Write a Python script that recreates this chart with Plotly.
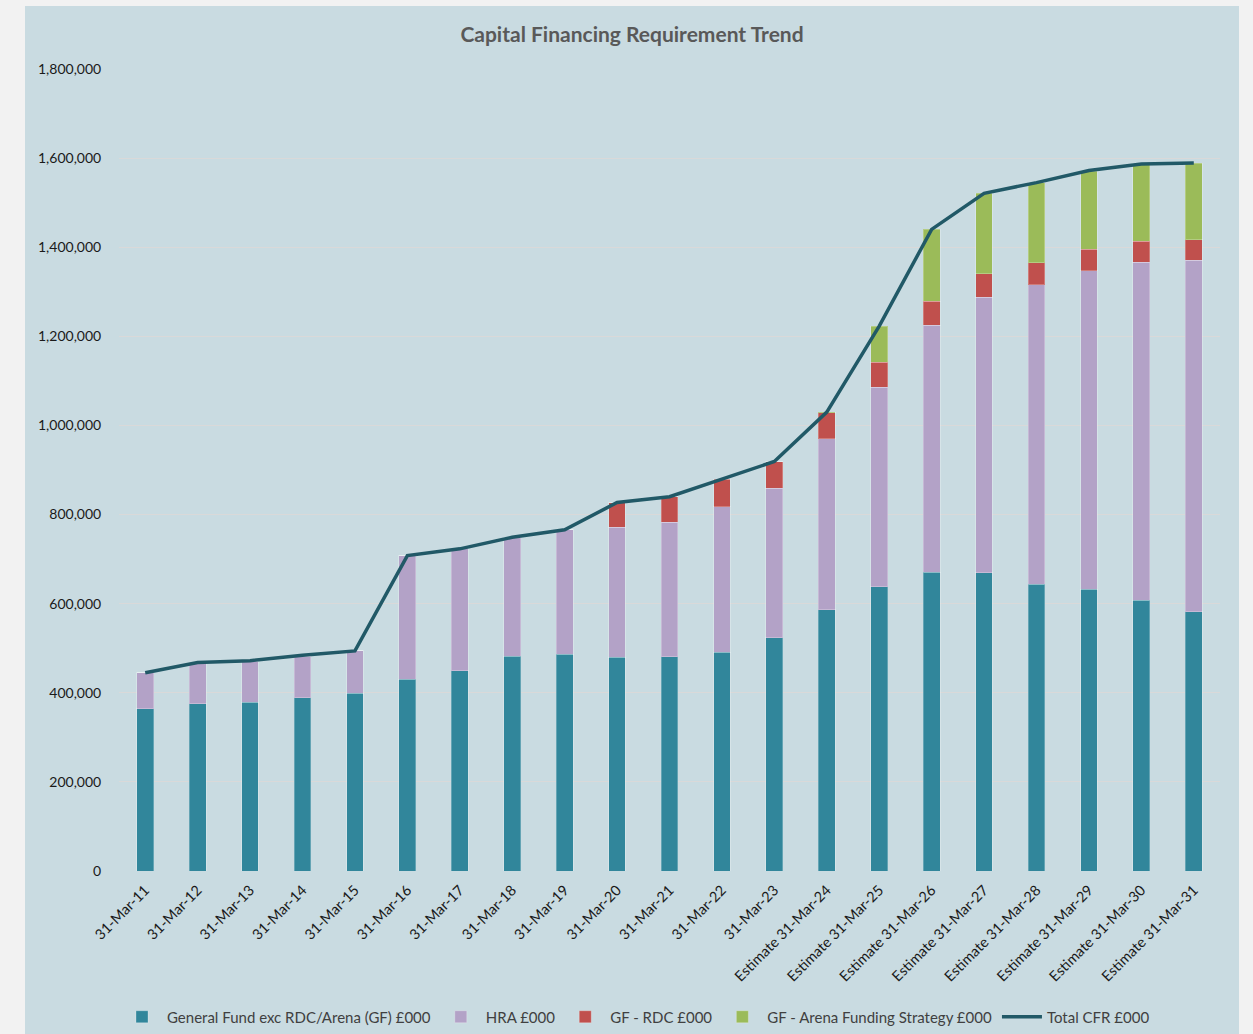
import plotly.graph_objects as go

# Year-end labels
categories = [
    "31-Mar-11", "31-Mar-12", "31-Mar-13", "31-Mar-14", "31-Mar-15",
    "31-Mar-16", "31-Mar-17", "31-Mar-18", "31-Mar-19", "31-Mar-20",
    "31-Mar-21", "31-Mar-22", "31-Mar-23",
    "Estimate 31-Mar-24", "Estimate 31-Mar-25", "Estimate 31-Mar-26",
    "Estimate 31-Mar-27", "Estimate 31-Mar-28", "Estimate 31-Mar-29",
    "Estimate 31-Mar-30", "Estimate 31-Mar-31",
]

# CFR components (£000)
gf_general = [364000, 375000, 379000, 389000, 399000, 430000, 449000, 482000, 486000, 480000,
              481000, 491000, 524000, 586000, 638000, 671000, 669000, 644000, 632000, 608000, 582000]
hra = [81000, 91000, 92000, 93000, 95000, 278000, 274000, 266000, 280000, 292000,
       302000, 327000, 335000, 384000, 448000, 554000, 619000, 672000, 715000, 758000, 789000]
gf_rdc = [0, 0, 0, 0, 0, 0, 0, 0, 0, 55000,
          57000, 61000, 60000, 58000, 56000, 54000, 52000, 49000, 49000, 47000, 46000]
gf_arena = [0, 0, 0, 0, 0, 0, 0, 0, 0, 0,
            0, 0, 0, 2000, 81000, 161000, 181000, 180000, 175000, 174000, 172000]
total_cfr = [445000, 468000, 472000, 484000, 494000, 708000, 723000, 749000, 766000, 827000,
             840000, 879000, 919000, 1030000, 1223000, 1440000, 1521000, 1545000, 1572000, 1587000, 1589000]

y_ticks = [0, 200000, 400000, 600000, 800000, 1000000, 1200000, 1400000, 1600000, 1800000]

FONT = "Lato, 'Open Sans', sans-serif"
PANEL = "#c9dbe1"
TEXT = "#404040"

fig = go.Figure()

bar_series = [
    ("General Fund exc RDC/Arena (GF) £000", gf_general, "#31869b"),
    ("HRA £000", hra, "#b3a2c7"),
    ("GF - RDC £000", gf_rdc, "#c0504d"),
    ("GF - Arena Funding Strategy £000", gf_arena, "#9bbb59"),
]
for name, vals, col in bar_series:
    fig.add_trace(go.Bar(
        x=categories, y=vals, name=name,
        marker=dict(color=col, line=dict(color="rgba(255,255,255,0.25)", width=1)),
    ))

fig.add_trace(go.Scatter(
    x=categories, y=total_cfr, name="Total CFR £000", mode="lines",
    line=dict(color="#215967", width=3.5),
))

fig.update_layout(
    width=1253, height=1034,
    margin=dict(l=119, r=33, t=69, b=163),
    paper_bgcolor="#f2f2f2",
    plot_bgcolor=PANEL,
    barmode="stack",
    bargap=0.68,
    font=dict(family=FONT, size=13, color=TEXT),
    title=dict(
        text="<b>Capital Financing Requirement Trend</b>",
        x=632 / 1253, xref="container", xanchor="center",
        y=1 - 35 / 1034, yref="container", yanchor="middle",
        font=dict(family=FONT, size=21, color="#595959"),
    ),
    showlegend=True,
    legend=dict(
        orientation="h",
        x=636 / 1253, xref="container", xanchor="center",
        y=1 - 1017 / 1034, yref="container", yanchor="middle",
        bgcolor="rgba(0,0,0,0)",
        font=dict(family=FONT, size=15, color=TEXT),
        itemwidth=40,
        traceorder="normal",
    ),
    shapes=[
        dict(type="rect", xref="paper", yref="paper",
             x0=(25 - 119) / 1101, x1=(1239 - 119) / 1101,
             y0=-0.25, y1=(871 - 6) / 802,
             fillcolor=PANEL, line=dict(width=0), layer="below"),
    ],
)

fig.update_xaxes(
    type="category",
    tickangle=-45,
    tickfont=dict(family=FONT, size=14.5, color="#1a1a1a"),
    showgrid=False,
    showline=False,
    ticks="outside",
    ticklen=4,
    tickcolor="rgba(0,0,0,0)",
    automargin=False,
)
fig.update_yaxes(
    range=[0, 1800000],
    tickvals=y_ticks,
    tickformat=",",
    tickfont=dict(family=FONT, size=14, color="#1a1a1a"),
    showgrid=True,
    gridcolor="#d9d9d9",
    gridwidth=1,
    zeroline=False,
    ticks="outside",
    ticklen=14,
    tickcolor="rgba(0,0,0,0)",
    automargin=False,
)

fig.write_html("out.html")
